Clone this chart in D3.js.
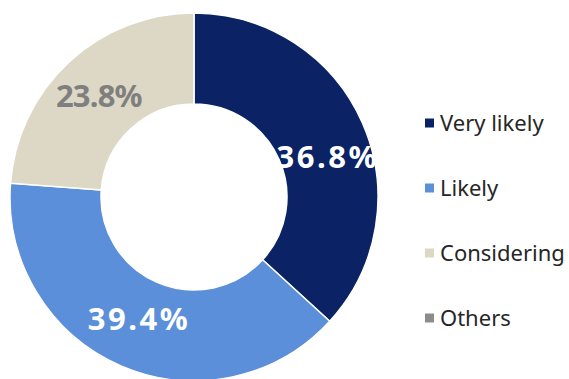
<!DOCTYPE html>
<html><head><meta charset="utf-8">
<script src="https://cdn.jsdelivr.net/npm/d3@7"></script>
<style>body{margin:0;background:#fff}svg{display:block}</style>
</head><body>
<script>
const categories = ["Very likely", "Likely", "Considering", "Others"];
const values = [36.8, 39.4, 23.8, 0];
const labels = ["36.8%", "39.4%", "23.8%", ""];
const colors = ["#0b2265", "#5b8fd9", "#ddd8c5", "#8c8c8c"];
const labelColors = ["#ffffff", "#ffffff", "#7f7f7f", "#ffffff"];

const W = 569, H = 379;
const svg = d3.select("body").append("svg").attr("width", W).attr("height", H);
const cx = 194, cy = 197, R = 184, r = 93;
const g = svg.append("g").attr("transform", `translate(${cx},${cy})`);
const pie = d3.pie().sort(null).value(d => d.v);
const data = categories.map((c, i) => ({c, v: values[i], i}));
const arcs = pie(data);
const arc = d3.arc().innerRadius(r).outerRadius(R);
g.selectAll("path").data(arcs.filter(a => a.data.v > 0)).join("path")
  .attr("d", arc).attr("fill", d => colors[d.data.i])
  .attr("stroke", "#fff").attr("stroke-width", 1.5);

const labelArc = d3.arc().innerRadius(r).outerRadius(R);
const nudge = [[7, 27], [0, 6], [-1, 12], [0, 0]];
const spacing = [2.5, 2.5, -0.8, 0];
g.selectAll("text.lbl").data(arcs.filter(a => a.data.v > 0)).join("text")
  .attr("class", "lbl")
  .attr("x", d => labelArc.centroid(d)[0] + nudge[d.data.i][0])
  .attr("y", d => labelArc.centroid(d)[1] + nudge[d.data.i][1])
  .attr("text-anchor", "middle")
  .attr("font-family", "'Noto Sans', sans-serif").attr("font-weight", "bold")
  .attr("font-size", 31).attr("letter-spacing", d => spacing[d.data.i])
  .attr("fill", d => labelColors[d.data.i])
  .text(d => labels[d.data.i]);

const ly = d3.scalePoint().domain(categories).range([123, 318]);
const leg = svg.append("g");
const rows = leg.selectAll("g").data(categories).join("g")
  .attr("transform", d => `translate(425,${ly(d)})`);
rows.append("rect").attr("x", 0).attr("y", -4.5).attr("width", 9).attr("height", 9)
  .attr("fill", (d, i) => colors[i]);
rows.append("text").attr("x", 15).attr("y", 8)
  .attr("font-family", "'Noto Sans', sans-serif").attr("font-size", 22)
  .attr("fill", "#262626").text(d => d);
</script>
</body></html>
